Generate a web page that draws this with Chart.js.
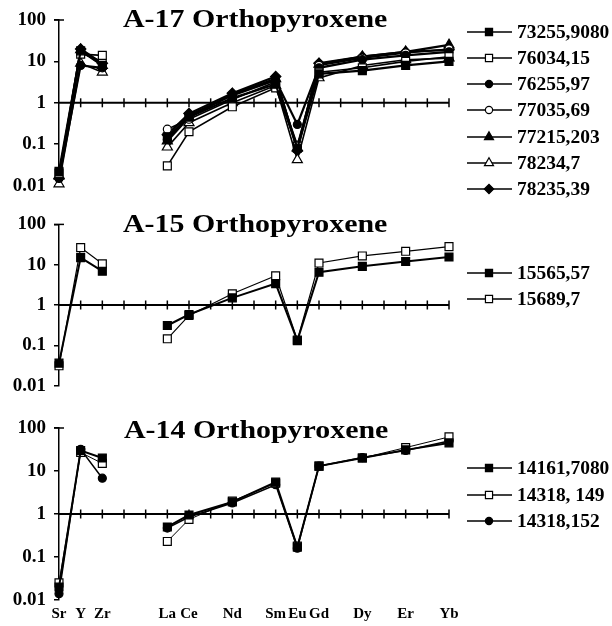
<!DOCTYPE html>
<html lang="en">
<head>
    <meta charset="UTF-8">
    <title>Orthopyroxene REE patterns</title>
    <script src="https://cdn.jsdelivr.net/npm/chart.js"></script>
    <style>
        body {
            margin: 0;
            background: #ffffff;
            width: 612px;
            height: 626px;
            position: relative;
            overflow: hidden;
        }
        .panel {
            position: absolute;
            left: 0;
            width: 612px;
        }
    </style>
</head>
<body>
    <div class="panel" id="p1" style="top:0;height:205px;"><canvas id="c1"></canvas></div>
    <div class="panel" id="p2" style="top:205px;height:200px;"><canvas id="c2"></canvas></div>
    <div class="panel" id="p3" style="top:405px;height:221px;"><canvas id="c3"></canvas></div>
    <script>
        // elements and their slot on the x axis (gaps = Pr, Pm, Tb, Ho, Tm)
        const elements = ['Sr', 'Y', 'Zr', 'La', 'Ce', 'Nd', 'Sm', 'Eu', 'Gd', 'Dy', 'Er', 'Yb'];
        const elementPos = [0, 1, 2, 5, 6, 8, 10, 11, 12, 14, 16, 18];
        const yTicks = [0.01, 0.1, 1, 10, 100];

        // A-17 orthopyroxene
        const a17_73255_9080 = [0.022, 18, 8, 0.15, 0.45, 1.3, 2.8, 0.08, 5, 6, 8, 10];
        const a17_76034_15 = [0.02, 15, 14, 0.03, 0.2, 0.8, 2.3, 0.09, 5.5, 7, 10, 13];
        const a17_76255_97 = [0.015, 8, 7, 0.13, 0.5, 1.5, 3.5, 0.3, 7, 11, 14, 17];
        const a17_77035_69 = [0.015, 16, 10, 0.23, 0.4, 1.2, 3.2, 0.095, 8, 12, 16, 20];
        const a17_77215_203 = [0.017, 19, 8, 0.12, 0.45, 1.6, 3.8, 0.08, 8.5, 13, 17, 25];
        const a17_78234_7 = [0.011, 9, 5.5, 0.085, 0.33, 1.0, 2.6, 0.042, 4, 8, 11, 12];
        const a17_78235_39 = [0.015, 20, 9, 0.17, 0.55, 1.7, 4.3, 0.07, 9, 13, 17, 19];

        // A-15 orthopyroxene
        const a15_15565_57 = [0.036, 15, 6.9, 0.31, 0.58, 1.5, 3.4, 0.13, 6.5, 9.1, 12, 15.5];
        const a15_15689_7 = [0.031, 26.5, 10.5, 0.145, 0.55, 1.9, 5.3, 0.135, 11, 16.5, 21.5, 28];

        // A-14 orthopyroxene
        const a14_14161_7080 = [0.02, 30, 20, 0.5, 0.95, 1.9, 5.5, 0.17, 13, 20, 31, 45];
        const a14_14318_149 = [0.025, 27, 15, 0.23, 0.75, 2.0, 5.2, 0.18, 13, 20, 35, 62];
        const a14_14318_152 = [0.014, 32, 6.8, 0.47, 0.85, 1.8, 4.8, 0.16, 13, 20.5, 30, 50];

        const serif = '"Liberation Serif", "Times New Roman", serif';

        // marker looks
        const styles = {
            fsq: { pointStyle: 'rect', radius: 5.6, fill: '#000' },
            osq: { pointStyle: 'rect', radius: 5.6, fill: '#fff' },
            fci: { pointStyle: 'circle', radius: 4, fill: '#000' },
            oci: { pointStyle: 'circle', radius: 4, fill: '#fff' },
            ftr: { pointStyle: 'triangle', radius: 5.8, fill: '#000' },
            otr: { pointStyle: 'triangle', radius: 5.8, fill: '#fff' },
            dia: { pointStyle: 'rectRot', radius: 5.2, fill: '#000' }
        };

        function toPoints(values) {
            const pts = [];
            values.forEach((v, i) => {
                pts.push({ x: elementPos[i], y: v });
                if (elements[i] === 'Zr') pts.push({ x: 3.5, y: null }); // break before REE
            });
            return pts;
        }

        function makeSet(label, values, style, width) {
            const s = styles[style];
            return {
                label: label,
                data: toPoints(values),
                borderColor: '#000',
                borderWidth: width,
                pointStyle: s.pointStyle,
                pointRadius: s.radius,
                pointBackgroundColor: s.fill,
                pointBorderColor: '#000',
                pointBorderWidth: 1.2,
                spanGaps: false,
                clip: false,
                fill: false,
                tension: 0
            };
        }

        // draws the axis through y=1, the panel title and the side legend
        const panelDecor = {
            id: 'panelDecor',
            beforeDatasetsDraw(chart, args, opts) {
                const ctx = chart.ctx;
                const xs = chart.scales.x, ys = chart.scales.y;
                const y1 = ys.getPixelForValue(1);
                ctx.save();
                ctx.strokeStyle = '#000';
                ctx.lineWidth = 2;
                ctx.beginPath();
                ctx.moveTo(xs.getPixelForValue(0), y1);
                ctx.lineTo(xs.getPixelForValue(18), y1);
                ctx.stroke();
                ctx.lineWidth = 1.5;
                for (let i = 1; i <= 18; i++) {
                    const px = xs.getPixelForValue(i);
                    ctx.beginPath();
                    ctx.moveTo(px, y1 - 4.5);
                    ctx.lineTo(px, y1 + 4.5);
                    ctx.stroke();
                }
                // little tick crossing the top of the y axis
                const top = ys.getPixelForValue(100);
                const left = xs.getPixelForValue(0);
                ctx.beginPath();
                ctx.moveTo(left - 5, top);
                ctx.lineTo(left + 5, top);
                ctx.stroke();
                ctx.restore();
            },
            afterDraw(chart, args, opts) {
                const ctx = chart.ctx;
                ctx.save();
                // title
                ctx.fillStyle = '#000';
                ctx.font = 'bold 26px ' + serif;
                ctx.textBaseline = 'alphabetic';
                ctx.textAlign = 'left';
                ctx.translate(opts.titleX, opts.titleY);
                ctx.scale(1.15, 1);
                ctx.fillText(opts.title, 0, 0);
                ctx.restore();

                // legend
                chart.data.datasets.forEach((ds, i) => {
                    const y = opts.legendY[i];
                    ctx.save();
                    ctx.strokeStyle = '#000';
                    ctx.lineWidth = 1.5;
                    ctx.beginPath();
                    ctx.moveTo(467, y);
                    ctx.lineTo(512, y);
                    ctx.stroke();
                    ctx.fillStyle = ds.pointBackgroundColor;
                    ctx.lineWidth = 1.2;
                    Chart.helpers.drawPoint(ctx, {
                        pointStyle: ds.pointStyle,
                        radius: ds.pointRadius * 0.9,
                        rotation: 0,
                        borderWidth: 1.2
                    }, 489, y);
                    ctx.fillStyle = '#000';
                    ctx.font = 'bold 18px ' + serif;
                    ctx.textBaseline = 'middle';
                    ctx.translate(517, y + 1);
                    ctx.scale(1.08, 1);
                    ctx.fillText(ds.label, 0, 0);
                    ctx.restore();
                });
            }
        };

        function makePanel(canvasId, datasets, decor, pad, showLabels) {
            return new Chart(document.getElementById(canvasId), {
                type: 'line',
                data: { datasets: datasets },
                plugins: [panelDecor],
                options: {
                    responsive: true,
                    maintainAspectRatio: false,
                    animation: false,
                    layout: { padding: { left: 0, right: 163, top: pad.top, bottom: pad.bottom } },
                    plugins: {
                        legend: { display: false },
                        tooltip: { enabled: false },
                        panelDecor: decor
                    },
                    scales: {
                        x: {
                            type: 'linear',
                            min: 0,
                            max: 18,
                            display: showLabels,
                            border: { display: false },
                            grid: { display: false, drawTicks: false },
                            afterBuildTicks: (s) => { s.ticks = elementPos.map(v => ({ value: v })); },
                            afterFit: (s) => { if (showLabels) s.height = 26; },
                            ticks: {
                                autoSkip: false,
                                maxRotation: 0,
                                padding: 5,
                                color: '#000',
                                font: { family: serif, size: 15, weight: 'bold' },
                                callback: (v) => elements[elementPos.indexOf(v)] || ''
                            }
                        },
                        y: {
                            type: 'logarithmic',
                            min: 0.01,
                            max: 100,
                            border: { display: true, color: '#000', width: 1.5 },
                            grid: { drawOnChartArea: false, drawTicks: true, tickLength: 5, color: '#000', lineWidth: 1.5 },
                            afterBuildTicks: (s) => { s.ticks = yTicks.map(v => ({ value: v })); },
                            afterFit: (s) => { s.width = 59; },
                            ticks: {
                                padding: 8,
                                color: '#000',
                                font: { family: serif, size: 19, weight: 'bold' },
                                callback: (v) => String(v)
                            }
                        }
                    }
                }
            });
        }

        makePanel('c1', [
            makeSet('73255,9080', a17_73255_9080, 'fsq', 2.2),
            makeSet('76034,15', a17_76034_15, 'osq', 1.6),
            makeSet('76255,97', a17_76255_97, 'fci', 2.2),
            makeSet('77035,69', a17_77035_69, 'oci', 1.6),
            makeSet('77215,203', a17_77215_203, 'ftr', 2.2),
            makeSet('78234,7', a17_78234_7, 'otr', 1.6),
            makeSet('78235,39', a17_78235_39, 'dia', 2.2)
        ], { title: 'A-17 Orthopyroxene', titleX: 123, titleY: 27, legendY: [32, 58, 84, 110, 137, 163, 189] },
            { top: 20, bottom: 13 }, false);

        makePanel('c2', [
            makeSet('15565,57', a15_15565_57, 'fsq', 2),
            makeSet('15689,7', a15_15689_7, 'osq', 1.2)
        ], { title: 'A-15 Orthopyroxene', titleX: 123, titleY: 27, legendY: [68, 94] },
            { top: 17, bottom: 11 }, false);

        makePanel('c3', [
            makeSet('14161,7080', a14_14161_7080, 'fsq', 2),
            makeSet('14318, 149', a14_14318_149, 'osq', 1),
            makeSet('14318,152', a14_14318_152, 'fci', 1.5)
        ], { title: 'A-14 Orthopyroxene', titleX: 124, titleY: 33, legendY: [63, 90, 116] },
            { top: 23, bottom: 0 }, true);
    </script>
</body>
</html>
